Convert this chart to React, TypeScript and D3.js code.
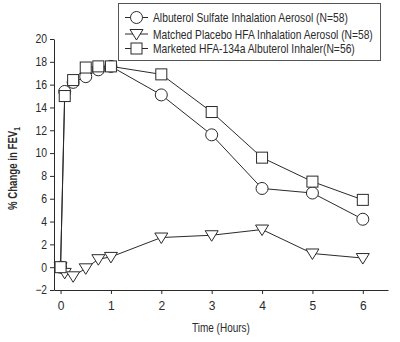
import React, { useEffect, useRef } from 'react';
import * as d3 from 'd3';

const times = [0, 0.083, 0.25, 0.5, 0.75, 1, 2, 3, 4, 5, 6];
const albuterol = [0, 15.4, 16.2, 16.7, 17.3, 17.6, 15.1, 11.6, 6.9, 6.5, 4.2];
const placebo = [0, -0.5, -0.8, -0.1, 0.7, 0.9, 2.6, 2.8, 3.3, 1.2, 0.8];
const marketed = [0, 15.0, 16.4, 17.5, 17.6, 17.6, 16.9, 13.6, 9.6, 7.5, 5.9];

const xTicks = [0, 1, 2, 3, 4, 5, 6];
const yTicks = [-2, 0, 2, 4, 6, 8, 10, 12, 14, 16, 18, 20];

const seriesNames = [
  'Albuterol Sulfate Inhalation Aerosol (N=58)',
  'Matched Placebo HFA Inhalation Aerosol (N=58)',
  'Marketed HFA-134a Albuterol Inhaler(N=56)',
];
// condensed widths for the legend labels
const legendWidths = [195, 220, 202];

const FONT = "'Liberation Sans', Arial, sans-serif";
const INK = '#2a2a2a';

type Shape = 'circle' | 'triangle' | 'square';

function drawMarker(g: any, shape: Shape, cx: number, cy: number) {
  if (shape === 'circle') {
    g.append('circle').attr('cx', cx).attr('cy', cy).attr('r', 6);
  } else if (shape === 'square') {
    g.append('rect').attr('x', cx - 5.5).attr('y', cy - 5.5).attr('width', 11).attr('height', 11);
  } else {
    g.append('path').attr('d', `M${cx - 6.5},${cy - 4.5}L${cx + 6.5},${cy - 4.5}L${cx},${cy + 6}Z`);
  }
}

// squeeze a text horizontally to a target width (no condensed font available)
function condense(text: any, width: number) {
  const node = text.node() as SVGTextElement;
  const natural = node.getComputedTextLength();
  const sx = natural > 0 ? width / natural : 1;
  const prev = text.attr('transform') || '';
  text.attr('transform', `${prev} scale(${sx},1)`);
}

function App() {
  const svgRef = useRef<SVGSVGElement>(null);

  useEffect(() => {
    const svg = d3.select(svgRef.current);
    svg.selectAll('*').remove();

    const x = d3.scaleLinear().domain([-0.13, 6.5]).range([54, 388]);
    const y = d3.scaleLinear().domain([-2, 20]).range([290, 39]);

    const series: { values: number[]; shape: Shape }[] = [
      { values: albuterol, shape: 'circle' },
      { values: placebo, shape: 'triangle' },
      { values: marketed, shape: 'square' },
    ];

    // axes
    const yAxis = svg.append('g')
      .attr('transform', 'translate(54,0)')
      .call(d3.axisLeft(y).tickValues(yTicks).tickFormat(d3.format('d')).tickSize(4).tickPadding(3).tickSizeOuter(0));
    const xAxis = svg.append('g')
      .attr('transform', 'translate(0,290)')
      .call(d3.axisBottom(x).tickValues(xTicks).tickFormat(d3.format('d')).tickSize(4).tickPadding(7).tickSizeOuter(0));

    [yAxis, xAxis].forEach(ax => {
      ax.select('.domain').attr('stroke', INK);
      ax.selectAll('.tick line').attr('stroke', INK);
      ax.selectAll('.tick text')
        .attr('fill', INK)
        .style('font-family', FONT)
        .style('font-size', '12px');
    });
    yAxis.selectAll('.tick text')
      .attr('textLength', (d: any) => String(d).length * 5.8)
      .attr('lengthAdjust', 'spacingAndGlyphs');

    const line = d3.line<number>()
      .x((_, i) => x(times[i]))
      .y(d => y(d));

    series.forEach(s => {
      svg.append('path')
        .datum(s.values)
        .attr('fill', 'none')
        .attr('stroke', INK)
        .attr('stroke-width', 1)
        .attr('d', line);
    });

    series.forEach(s => {
      const g = svg.append('g').attr('fill', '#fff').attr('stroke', INK).attr('stroke-width', 1);
      s.values.forEach((v, i) => drawMarker(g, s.shape, x(times[i]), y(v)));
    });

    // legend
    const legend = svg.append('g');
    legend.append('rect')
      .attr('x', 118.5).attr('y', 3.5).attr('width', 262).attr('height', 57)
      .attr('fill', '#fff').attr('stroke', '#555').attr('stroke-width', 1);
    const rows = [17.5, 34, 48.5];
    series.forEach((s, i) => {
      legend.append('line')
        .attr('x1', 125).attr('x2', 148).attr('y1', rows[i]).attr('y2', rows[i])
        .attr('stroke', INK);
      const g = legend.append('g').attr('fill', '#fff').attr('stroke', INK);
      drawMarker(g, s.shape, 136.5, rows[i]);
      const t = legend.append('text')
        .attr('transform', `translate(153,${rows[i]})`)
        .attr('dy', '0.35em')
        .attr('fill', INK)
        .style('font-family', FONT).style('font-size', '13px')
        .text(seriesNames[i]);
      condense(t, legendWidths[i]);
    });

    // axis titles
    const xt = svg.append('text')
      .attr('transform', 'translate(192,332)')
      .attr('fill', INK)
      .style('font-family', FONT).style('font-size', '13px')
      .text('Time (Hours)');
    condense(xt, 58);

    const yt = svg.append('text')
      .attr('transform', 'translate(17,210) rotate(-90)')
      .attr('fill', INK)
      .style('font-family', FONT).style('font-size', '13px').style('font-weight', 'bold');
    yt.append('tspan').text('% Change in FEV');
    yt.append('tspan').attr('dy', 3).style('font-size', '9px').text('1');
    condense(yt, 83);
  }, []);

  return (
    <svg ref={svgRef} width={400} height={342}
      style={{ position: 'absolute', left: 0, top: 0, background: '#fff' }} />
  );
}

export default App;
